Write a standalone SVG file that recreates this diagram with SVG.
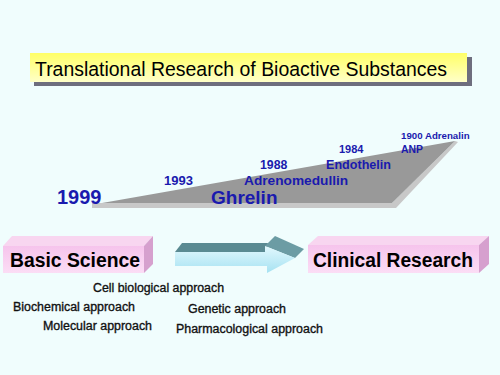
<svg xmlns="http://www.w3.org/2000/svg" width="500" height="375" viewBox="0 0 500 375">
<defs>
<linearGradient id="yel" x1="0" y1="0" x2="0" y2="1"><stop offset="0" stop-color="#FFFF66"/><stop offset="1" stop-color="#FFFFC8"/></linearGradient>
<linearGradient id="pink" x1="0" y1="0" x2="0" y2="1"><stop offset="0" stop-color="#F6C4EC"/><stop offset="1" stop-color="#FBDDF5"/></linearGradient>
<linearGradient id="cyan" x1="0" y1="0" x2="0" y2="1"><stop offset="0" stop-color="#E2F8FD"/><stop offset="1" stop-color="#A6E2F2"/></linearGradient>
<style>
.blue{fill:#1A1AAE;font-family:"Liberation Sans",Arial,sans-serif;font-weight:bold}
.lab{fill:#111;stroke:#111;stroke-width:0.35px;font-family:"Liberation Sans",Arial,sans-serif;font-size:12.5px}
.big{fill:#000;font-family:"Liberation Sans",Arial,sans-serif;font-weight:bold;font-size:19.5px}
</style>
</defs>
<rect width="500" height="375" fill="#F0FDFD"/>
<g id="title">
<rect x="34" y="57" width="438" height="29" fill="#6E6E7E"/>
<rect x="30" y="53" width="437" height="29" fill="url(#yel)"/>
<text x="35" y="76" font-family="Liberation Sans, Arial, sans-serif" font-size="20.5" fill="#000" textLength="412" lengthAdjust="spacingAndGlyphs">Translational Research of Bioactive Substances</text>
</g>
<g id="timeline">
<polygon points="92,203 392,203 455,141 458,142 396,208 92,208" fill="#C8C8C8"/>
<polygon points="102,203 455,141 392,203" fill="#999999"/>
<text class="blue" x="57" y="204" font-size="20">1999</text>
<text class="blue" x="211" y="204" font-size="19">Ghrelin</text>
<text class="blue" x="164" y="185" font-size="13">1993</text>
<text class="blue" x="260" y="169" font-size="12.3">1988</text>
<text class="blue" x="244" y="185" font-size="13.7">Adrenomedullin</text>
<text class="blue" x="339" y="153" font-size="11">1984</text>
<text class="blue" x="326" y="169" font-size="12.6">Endothelin</text>
<text class="blue" x="401" y="139" font-size="9.7">1900 Adrenalin</text>
<text class="blue" x="401" y="153" font-size="10.4">ANP</text>
</g>
<g id="basic-science">
<polygon points="3,246 12,236 153,236 144,246" fill="#F8D6F0"/>
<polygon points="144,246 153,236 153,264 144,273" fill="#D6A0CE"/>
<rect x="3" y="246" width="141" height="27" fill="url(#pink)"/>
<text class="big" x="10" y="267" textLength="130" lengthAdjust="spacingAndGlyphs">Basic Science</text>
</g>
<g id="clinical-research">
<polygon points="308,245 318,236 489,236 479,245" fill="#F8D6F0"/>
<polygon points="479,245 489,236 489,264 479,273" fill="#D6A0CE"/>
<rect x="308" y="245" width="171" height="28" fill="url(#pink)"/>
<text class="big" x="313" y="267" textLength="160" lengthAdjust="spacingAndGlyphs">Clinical Research</text>
</g>
<g id="connectors">
<polygon points="175,252 182,243 268,243 265,252" fill="#5A8A92"/>
<polygon points="265,246 275,236 304,249 295,258" fill="#6C9CA4"/>
<polygon points="175,252 265,252 265,246 295,258 267,273 267,266 175,266" fill="url(#cyan)"/>
</g>
<g id="approaches">
<text class="lab" x="93" y="292" textLength="131" lengthAdjust="spacingAndGlyphs">Cell biological approach</text>
<text class="lab" x="13" y="311" textLength="122" lengthAdjust="spacingAndGlyphs">Biochemical approach</text>
<text class="lab" x="188" y="313" textLength="98" lengthAdjust="spacingAndGlyphs">Genetic approach</text>
<text class="lab" x="43" y="330" textLength="109" lengthAdjust="spacingAndGlyphs">Molecular approach</text>
<text class="lab" x="176" y="333" textLength="147" lengthAdjust="spacingAndGlyphs">Pharmacological approach</text>
</g>
</svg>
